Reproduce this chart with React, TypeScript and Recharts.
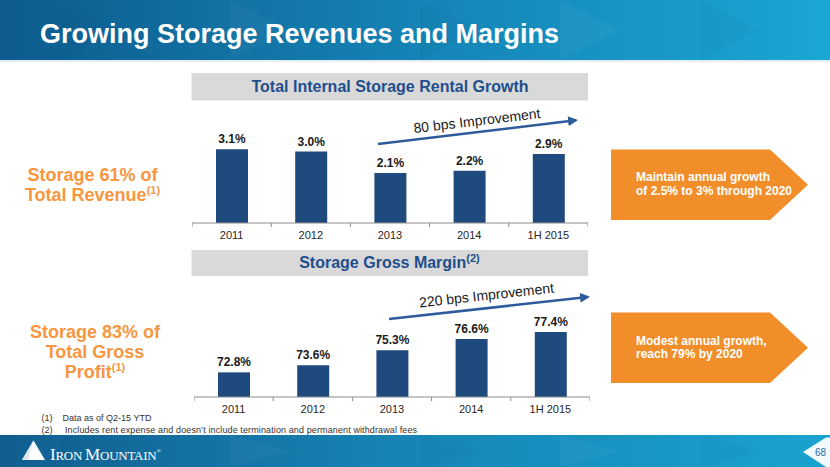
import { Bar, BarChart, LabelList, XAxis, YAxis } from 'recharts'

const years = ['2011', '2012', '2013', '2014', '1H 2015']
const rentalGrowth = [3.1, 3.0, 2.1, 2.2, 2.9]
const grossMargin = [72.8, 73.6, 75.3, 76.6, 77.4]

const growthData = years.map((year, i) => ({ year, value: rentalGrowth[i] }))
const marginData = years.map((year, i) => ({ year, value: grossMargin[i] }))

const FONT = '"Liberation Sans", Arial, sans-serif'
const BAR_BLUE = '#1f4a7e'
const ORANGE = '#f28e2a'
const ORANGE_TEXT = '#f7963f'
const TITLE_BLUE = '#1f4e8c'
const PLOT_W = 396
const BAND = PLOT_W / years.length

const YearTick = (props: any) => {
	const { x, y, payload, index } = props
	const left = x - BAND / 2
	return (
		<g>
			<line x1={left} y1={y - 8} x2={left} y2={y - 4} stroke="#8c8c8c" />
			{index === years.length - 1 && (
				<line x1={x + BAND / 2} y1={y - 8} x2={x + BAND / 2} y2={y - 4} stroke="#8c8c8c" />
			)}
			<text x={x} y={y} dy="0.71em" textAnchor="middle" fontSize={11} fill="#262626" fontFamily={FONT}>
				{payload.value}
			</text>
		</g>
	)
}

const pct = (v: any) => `${Number(v).toFixed(1)}%`

const MiniBars = ({ data, domain, marginTop, height }: { data: any[]; domain: number[]; marginTop: number; height: number }) => (
	<BarChart width={PLOT_W} height={height} data={data} margin={{ top: marginTop, right: 0, left: 0, bottom: 0 }}>
		<XAxis
			dataKey="year"
			height={27}
			tickSize={4}
			tickMargin={4}
			tickLine={false}
			axisLine={{ stroke: '#8c8c8c' }}
			tick={<YearTick />}
			interval={0}
		/>
		<YAxis hide domain={domain} />
		<Bar dataKey="value" fill={BAR_BLUE} barSize={32} isAnimationActive={false}>
			<LabelList
				dataKey="value"
				position="top"
				offset={6}
				formatter={pct}
				fill="#1a1a1a"
				fontSize={12}
				fontWeight="bold"
				fontFamily={FONT}
			/>
		</Bar>
	</BarChart>
)

// blue banner with the faint triangle texture of the slide template
const Band = ({ y, h, id }: { y: number; h: number; id: string }) => (
	<g>
		<rect x={0} y={y} width={830} height={h} fill={`url(#${id})`} />
		{[60, 230, 420, 560, 700].map((tx, i) => (
			<polygon
				key={i}
				points={`${tx},${y} ${tx + 60},${y + h / 2} ${tx},${y + h}`}
				fill={i % 2 ? '#ffffff' : '#0a3f66'}
				opacity={0.035}
			/>
		))}
	</g>
)

const App = () => {
	return (
		<div
			style={{
				position: 'absolute',
				left: 0,
				top: 0,
				width: 830,
				height: 467,
				overflow: 'hidden',
				background: '#ffffff',
				fontFamily: FONT,
			}}
		>
			<svg width={830} height={467} style={{ position: 'absolute', left: 0, top: 0 }}>
				<defs>
					<linearGradient id="hdr" x1="0" y1="0" x2="1" y2="0">
						<stop offset="0" stopColor="#0e5b8d" />
						<stop offset="0.5" stopColor="#1583b5" />
						<stop offset="1" stopColor="#1aa7d3" />
					</linearGradient>
					<linearGradient id="ftr" x1="0" y1="0" x2="1" y2="0">
						<stop offset="0" stopColor="#115e90" />
						<stop offset="0.5" stopColor="#1686b6" />
						<stop offset="1" stopColor="#1aa3cf" />
					</linearGradient>
				</defs>
				<Band y={0} h={60} id="hdr" />
				<rect x={0} y={60} width={830} height={2} fill="#e3edf3" />
				<text x={40} y={43} fill="#ffffff" fontSize={27} fontWeight="bold" fontFamily={FONT}>
					Growing Storage Revenues and Margins
				</text>

				<rect x={191.5} y={73} width={396.5} height={27.5} fill="#d9d9d9" />
				<text x={390} y={92} textAnchor="middle" fill={TITLE_BLUE} fontSize={16} fontWeight="bold" fontFamily={FONT}>
					Total Internal Storage Rental Growth
				</text>
				<rect x={191.5} y={250} width={396.5} height={26} fill="#d9d9d9" />
				<text x={389.5} y={267.5} textAnchor="middle" fill={TITLE_BLUE} fontSize={16} fontWeight="bold" fontFamily={FONT}>
					Storage Gross Margin
					<tspan fontSize={11} dy={-6}>(2)</tspan>
				</text>

				<g fill={ORANGE_TEXT} fontSize={18} fontWeight="bold" fontFamily={FONT} textAnchor="middle">
					<text x={92.5} y={180.5}>Storage 61% of</text>
					<text x={92.5} y={200.5}>
						Total Revenue<tspan fontSize={11} dy={-7}>(1)</tspan>
					</text>
					<text x={95} y={337.5}>Storage 83% of</text>
					<text x={95} y={358}>Total Gross</text>
					<text x={95} y={378}>
						Profit<tspan fontSize={11} dy={-7}>(1)</tspan>
					</text>
				</g>

				<polygon points="611,149.5 770,149.5 808,184.7 770,220 611,220" fill={ORANGE} />
				<polygon points="611,312.5 770,312.5 808,347.7 770,383 611,383" fill={ORANGE} />
				<g fill="#ffffff" fontSize={12} fontWeight="bold" fontFamily={FONT}>
					<text x={636} y={180.5}>Maintain annual growth</text>
					<text x={636} y={194.5}>of 2.5% to 3% through 2020</text>
					<text x={636} y={344.5}>Modest annual growth,</text>
					<text x={636} y={358}>reach 79% by 2020</text>
				</g>

				<g fill="#333333" fontSize={9} fontFamily={FONT}>
					<text x={41.5} y={421}>(1)</text>
					<text x={62.5} y={421}>Data as of Q2-15 YTD</text>
					<text x={41.5} y={433}>(2)</text>
					<text x={65} y={433} textLength={352}>
						Includes rent expense and doesn’t include termination and permanent withdrawal fees
					</text>
				</g>

				<Band y={435} h={32} id="ftr" />
				<polygon points="22,460 33.5,440.5 45,460" fill="#ffffff" />
				<polygon points="33.5,440.5 28,460 22,460" fill="#dfe8ee" />
				<text x={50} y={460} fill="#ffffff" fontFamily='"Liberation Serif", "Times New Roman", serif' textLength={111}>
					<tspan fontSize={17}>I</tspan>
					<tspan fontSize={13}>RON </tspan>
					<tspan fontSize={17}>M</tspan>
					<tspan fontSize={13}>OUNTAIN</tspan>
					<tspan fontSize={6} dy={-7}>®</tspan>
				</text>
				<polygon points="803,452 826,437.5 830,437.5 830,467 826,467" fill="#ffffff" opacity={0.95} />
				<text x={820.5} y={456} textAnchor="middle" fill="#2a6ca6" fontSize={10} fontFamily={FONT}>
					68
				</text>
			</svg>

			<div style={{ position: 'absolute', left: 192, top: 100 }}>
				<MiniBars data={growthData} domain={[0, 5]} marginTop={4} height={150} />
			</div>
			<div style={{ position: 'absolute', left: 194, top: 290 }}>
				<MiniBars data={marginData} domain={[70, 80]} marginTop={19} height={134} />
			</div>

			<svg width={830} height={467} style={{ position: 'absolute', left: 0, top: 0, pointerEvents: 'none' }}>
				<defs>
					<marker id="head" viewBox="0 0 10 10" refX="8" refY="5" markerWidth="4" markerHeight="4" orient="auto">
						<path d="M0,0 L10,5 L0,10 z" fill="#2d5b9b" />
					</marker>
				</defs>
				<line x1={378} y1={144} x2={576} y2={120.3} stroke="#2d5b9b" strokeWidth={2.5} markerEnd="url(#head)" />
				<text x={477.5} y={125.5} textAnchor="middle" fontSize={14} fill="#1a1a1a" fontFamily={FONT} transform="rotate(-6.8 477.5 125.5)">
					80 bps Improvement
				</text>
				<line x1={389} y1={319} x2={588} y2={297} stroke="#2d5b9b" strokeWidth={2.5} markerEnd="url(#head)" />
				<text x={487} y={300} textAnchor="middle" fontSize={14} fill="#1a1a1a" fontFamily={FONT} transform="rotate(-6.3 487 300)">
					220 bps Improvement
				</text>
			</svg>
		</div>
	)
}

export default App
